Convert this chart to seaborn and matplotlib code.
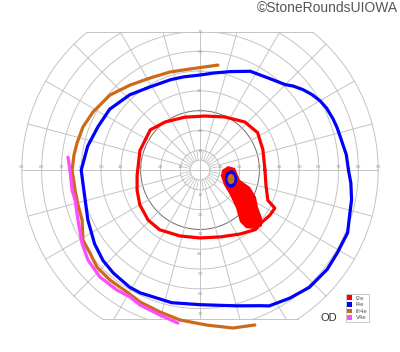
import numpy as np
import pandas as pd
import matplotlib
matplotlib.use('Agg')
import matplotlib.pyplot as plt
from matplotlib.patches import Patch, Ellipse, Rectangle
import seaborn as sns

# Goldmann isopters, right eye: meridian angle (deg) and eccentricity (deg)
i2e_ang = [0, 18, 33, 47, 65, 85, 106, 126, 141, 162, 185, 198, 210, 224, 236, 253,
           270, 287, 302, 313, 320, 327, 333, 336, 347, 360]
i2e_ecc = [32.8, 33.4, 34.7, 33.2, 29.6, 27.4, 27.8, 30.0, 32.3, 31.9, 31.9, 33.4, 35.1,
           36.4, 36.4, 34.8, 34.3, 35.3, 38.1, 41.1, 40.9, 42.0, 42.4, 37.5, 34.2, 32.8]

i4e_ang = [0, 6, 12, 17, 21, 26, 30, 34, 38, 42, 45, 53, 63, 73, 82, 90, 100, 108, 121,
           133, 146, 157, 168, 180, 195, 204, 215, 223, 230, 239, 244, 258, 270, 285,
           294, 297, 305, 313, 322, 329, 337, 343, 349, 355, 360]
i4e_ecc = [75, 74.3, 73, 72.5, 72, 71.2, 70, 68.2, 66, 63.4, 61, 58, 56, 52, 49.5, 48,
           47.8, 48, 49, 52, 55, 56, 58, 60, 60, 62, 65, 67, 68, 69, 69, 68.5, 68, 71,
           75, 77, 79, 81, 81.5, 81, 81, 79, 78, 76.5, 75]

iii4e_ang = [80.3, 95.7, 107, 118.5, 129.5, 140.2, 151.5, 159.8, 167.6, 173.2, 180,
             189.1, 196, 203, 210.9, 217, 223.3, 230.7, 239.1, 245.6, 254.3, 262.4,
             272.6, 281.8, 289.5]
iii4e_ecc = [53.8, 51.3, 51.8, 52.9, 55.6, 59.2, 61.5, 63, 63.6, 64.1, 64.6,
             63.9, 64.1, 64.7, 68.9, 69.6, 71.5, 71.8, 71.8, 73.2, 74.5, 76.4,
             78.4, 81.5, 83]

v4e_ang = [174.4, 180, 188.9, 193.5, 202.3, 211.7, 218.8, 226.9, 235.3, 241.1, 246,
           254.6, 261.8]
v4e_ecc = [67, 65.7, 65.4, 64.9, 66.6, 70.1, 72.6, 74, 73.7, 73.2, 74.6, 76, 78.1]

# I2e scotoma (filled area)
scot_ang = [0, 8.1, 3.3, 346, 341.2, 334.3, 327.5, 322.3, 317.9, 312.9, 308.4, 307.6,
            313.5, 320.2, 328, 344]
scot_ecc = [11.1, 14.3, 17.7, 20.8, 26.7, 31.4, 34.7, 39.6, 42.2, 40.7, 37.4, 33.1,
            26.4, 19.7, 14.3, 11]

# blind spot (I4e / III4e scotomas): centre angle, centre ecc, width, height
blind_ang, blind_ecc = 343.8, 16.3
blind_size = {'I4e': (6.2, 8.8), 'III4e': (3.6, 5.2)}

targets = ['I2e', 'I4e', 'III4e', 'V4e']
colors = {'I2e': '#ff0000', 'I4e': '#0000ff', 'III4e': '#cc6a1c', 'V4e': '#ff4cff'}

ring_radii = [10, 20, 30, 40, 50, 60, 70, 80, 90]


def polar_to_xy(ang, ecc):
    a = np.radians(np.asarray(ang, dtype=float))
    e = np.asarray(ecc, dtype=float)
    return e * np.cos(a), e * np.sin(a)


rows = []
for name, ang, ecc in [('I2e', i2e_ang, i2e_ecc), ('I4e', i4e_ang, i4e_ecc),
                       ('III4e', iii4e_ang, iii4e_ecc), ('V4e', v4e_ang, v4e_ecc)]:
    x, y = polar_to_xy(ang, ecc)
    for i in range(len(x)):
        rows.append({'target': name, 'order': i, 'x': x[i], 'y': y[i]})
df = pd.DataFrame(rows)

fig = plt.figure(figsize=(4, 3.52), dpi=100)
ax = fig.add_axes([0, 0, 1, 1])

grid_c = '#c4c4c4'
top_y, bot_y = 69.7, -75.3
clip = Rectangle((-95, bot_y), 190, top_y - bot_y, transform=ax.transData)

# rings
t = np.linspace(0, 2 * np.pi, 721)
for r in [5] + ring_radii:
    col = '#6e6e6e' if r == 30 else grid_c
    ln, = ax.plot(r * np.cos(t), r * np.sin(t), color=col, lw=0.7, zorder=1)
    ln.set_clip_path(clip)

# flat top / bottom edges of the chart
for yy in [top_y, bot_y]:
    half = np.sqrt(90 ** 2 - yy ** 2)
    ax.plot([-half, half], [yy, yy], color=grid_c, lw=0.7, zorder=1)

# meridians
for m in range(0, 360, 15):
    a = np.radians(m)
    r0 = 0 if m % 90 == 0 else 10
    ln, = ax.plot([r0 * np.cos(a), 90 * np.cos(a)], [r0 * np.sin(a), 90 * np.sin(a)],
                  color=grid_c, lw=0.7, zorder=1)
    ln.set_clip_path(clip)
# short spokes between 5 and 10 deg
for m in range(0, 360, 10):
    a = np.radians(m)
    ax.plot([5 * np.cos(a), 10 * np.cos(a)], [5 * np.sin(a), 10 * np.sin(a)],
            color=grid_c, lw=0.6, zorder=1)

# degree labels
for r in ring_radii:
    for s in (-1, 1):
        ax.text(s * r, 1.3, str(r), fontsize=3.2, color='#9a9a9a', ha='center',
                va='center', zorder=2)
for r in ring_radii[:7]:
    ax.text(0, r - 0.3, str(r), fontsize=3.2, color='#9a9a9a', ha='center',
            va='center', zorder=2)
    ax.text(0, -r - 2.5, str(r), fontsize=3.2, color='#9a9a9a', ha='center',
            va='center', zorder=2)

# scotoma fill
sx, sy = polar_to_xy(scot_ang, scot_ecc)
ax.fill(sx, sy, color=colors['I2e'], lw=0, zorder=3)
bx, by = polar_to_xy([blind_ang], [blind_ecc])
for name in ['I4e', 'III4e']:
    w, h = blind_size[name]
    ax.add_patch(Ellipse((bx[0], by[0]), w, h, color=colors[name], zorder=4, lw=0))

# isopters
sns.lineplot(data=df, x='x', y='y', hue='target', hue_order=targets, palette=colors,
             sort=False, estimator=None, units='target', lw=2.3, legend=False, ax=ax,
             zorder=5, solid_joinstyle='round', solid_capstyle='round')
ax.set_xlim(-101.0, 101.0)
ax.set_ylim(-91.9, 85.9)
ax.set_aspect('equal')
ax.axis('off')

handles = [Patch(facecolor=colors[k], edgecolor='none', label=k) for k in targets]
leg = ax.legend(handles=handles, loc='lower left', bbox_to_anchor=(0.864, 0.085),
                bbox_transform=fig.transFigure, fontsize=4, frameon=True,
                fancybox=False, edgecolor='#b0b0b0', handlelength=0.9,
                handleheight=0.9, labelspacing=0.25, borderpad=0.3,
                handletextpad=0.6, borderaxespad=0)
for txt in leg.get_texts():
    txt.set_color('#555555')
leg.get_frame().set_linewidth(0.6)

fig.text(329 / 400, 1 - 318 / 352, 'OD', fontsize=8, ha='center', va='center',
         color='#333333', family='Liberation Sans')
fig.text(398 / 400, 1 - 8 / 352, '\u00a9StoneRoundsUIOWA', fontsize=10, ha='right',
         va='center', color='#555555', family='Liberation Sans')

fig.savefig('out.png', dpi=100)
